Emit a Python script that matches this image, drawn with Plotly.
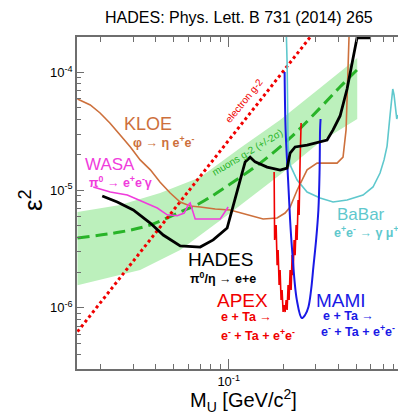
import plotly.graph_objects as go

# ---------------- data ----------------
band_up_x = [0.0149, 0.0255, 0.0422, 0.0699, 0.1156, 0.191, 0.316, 0.505]
band_up_y = [6.53e-6, 7.49e-6, 9.47e-6, 1.29e-5, 2.28e-5, 3.95e-5, 7.38e-5, 1.33e-4]
band_lo_x = [0.0149, 0.0328, 0.0543, 0.102, 0.191, 0.316, 0.505]
band_lo_y = [1.56e-6, 2.10e-6, 3.10e-6, 6.4e-6, 1.35e-5, 2.57e-5, 4.03e-5]

mu_x = [0.0149, 0.0255, 0.0372, 0.0543, 0.0699, 0.102, 0.1486, 0.217, 0.316, 0.406, 0.503]
mu_y = [3.93e-6, 4.41e-6, 5.06e-6, 6.53e-6, 7.78e-6, 1.13e-5, 1.70e-5, 2.78e-5, 4.99e-5, 7.53e-5, 1.05e-4]

eg2_x = [0.0149, 0.285]
eg2_y = [6.28e-7, 2.08e-4]

kloe_x = [0.0149, 0.0175, 0.0198, 0.0224, 0.0255, 0.0290, 0.0328, 0.0373, 0.0422, 0.0479,
          0.0543, 0.0616, 0.0699, 0.0844, 0.1019, 0.131, 0.1543, 0.184, 0.2036, 0.2168,
          0.2368, 0.2685, 0.3045, 0.3917, 0.4223, 0.4387, 0.4498, 0.4555]
kloe_y = [5.96e-5, 5.30e-5, 4.53e-5, 3.72e-5, 2.94e-5, 2.33e-5, 1.81e-5, 1.49e-5, 1.17e-5, 9.47e-6,
          7.94e-6, 7.35e-6, 7.20e-6, 6.92e-6, 6.79e-6, 6.15e-6, 5.69e-6, 5.80e-6, 6.40e-6, 7.20e-6,
          1.00e-5, 1.49e-5, 1.70e-5, 1.70e-5, 1.91e-5, 3.25e-5, 8.63e-5, 2.04e-4]

wasa_x = [0.01818, 0.02252, 0.0279, 0.0341, 0.0407, 0.0461, 0.0523, 0.0571, 0.0601, 0.0616,
          0.0632, 0.0656, 0.0744, 0.0899, 0.0994]
wasa_y = [1.065e-5, 9.65e-6, 9.10e-6, 7.94e-6, 7.06e-6, 6.18e-6, 6.07e-6, 6.40e-6, 7.48e-6, 7.78e-6,
          6.92e-6, 5.69e-6, 5.69e-6, 5.69e-6, 7.20e-6]

hades_x = [0.02035, 0.02459, 0.03007, 0.03724, 0.04386, 0.05433, 0.06986, 0.0823, 0.0981, 0.1058,
           0.1156, 0.1231, 0.1311, 0.1395, 0.1623, 0.1911, 0.2088, 0.2168, 0.2309, 0.2685,
           0.3162, 0.3453, 0.3724, 0.4068, 0.4442, 0.4730, 0.4913, 0.5037, 0.6008]
hades_y = [8.93e-6, 7.94e-6, 6.79e-6, 5.26e-6, 4.16e-6, 3.36e-6, 3.29e-6, 3.78e-6, 4.77e-6, 7.20e-6,
           1.22e-5, 1.74e-5, 1.91e-5, 1.74e-5, 1.57e-5, 1.48e-5, 1.54e-5, 2.07e-5, 2.33e-5, 2.42e-5,
           2.57e-5, 2.67e-5, 3.25e-5, 4.27e-5, 7.24e-5, 1.20e-4, 1.68e-4, 1.97e-4, 1.97e-4]

babar_x = [0.2062, 0.2088, 0.2114, 0.2168, 0.2368, 0.2685, 0.3162, 0.3724, 0.4442, 0.5433,
           0.6161, 0.6730, 0.7077, 0.7351, 0.7634, 0.7898, 0.8028, 0.8305, 0.8442]
babar_y = [2.5e-4, 1.20e-4, 2.37e-5, 1.64e-5, 1.22e-5, 9.65e-6, 8.58e-6, 7.94e-6, 8.25e-6, 9.10e-6,
           1.065e-5, 1.40e-5, 1.81e-5, 2.37e-5, 4.35e-5, 7.24e-5, 6.44e-5, 4.03e-5, 4.35e-5]

mami_x = [0.2023, 0.2049, 0.2114, 0.2168, 0.2223, 0.2359, 0.2512, 0.2618, 0.2731, 0.2824,
          0.2907, 0.3008, 0.3096, 0.3143, 0.3162, 0.3182]
mami_y = [1.01e-4, 3.25e-5, 1.22e-5, 5.58e-6, 3.12e-6, 1.17e-6, 8.20e-7, 8.71e-7, 1.02e-6, 1.42e-6,
          2.23e-6, 3.78e-6, 6.79e-6, 1.48e-5, 3.25e-5, 4.03e-5]

apex_x = [0.1773, 0.1784, 0.1818, 0.1841, 0.1864, 0.1888, 0.1911, 0.1935, 0.1960, 0.1985,
          0.2010, 0.2036, 0.2062, 0.2088, 0.2114, 0.2141, 0.2168, 0.2196, 0.2223, 0.2252,
          0.2280, 0.2309, 0.2338, 0.2368, 0.2398, 0.2428, 0.2459, 0.2490]
apex_y = [1.43e-5, 3.78e-6, 5.06e-6, 2.31e-6, 3.10e-6, 1.565e-6, 2.10e-6, 1.167e-6, 1.42e-6, 9.23e-7,
          1.058e-6, 9.23e-7, 1.167e-6, 9.60e-7, 1.565e-6, 1.167e-6, 2.10e-6, 1.42e-6, 2.81e-6, 1.90e-6,
          3.78e-6, 2.81e-6, 5.06e-6, 3.78e-6, 8.25e-6, 6.16e-6, 1.80e-5, 3.72e-5]

x_major = [0.1]
x_major_text = ["10<sup>-1</sup>"]
x_minor = [0.02, 0.03, 0.04, 0.05, 0.06, 0.07, 0.08, 0.09, 0.2, 0.3, 0.4, 0.5, 0.6, 0.7, 0.8]
y_major = [1e-6, 1e-5, 1e-4]
y_major_text = ["10<sup>-6</sup>", "10<sup>-5</sup>", "10<sup>-4</sup>"]
y_minor = [4e-7, 5e-7, 6e-7, 7e-7, 8e-7, 9e-7,
           2e-6, 3e-6, 4e-6, 5e-6, 6e-6, 7e-6, 8e-6, 9e-6,
           2e-5, 3e-5, 4e-5, 5e-5, 6e-5, 7e-5, 8e-5, 9e-5, 2e-4]

# ---------------- colours ----------------
C_KLOE = "rgb(205,112,60)"
C_WASA = "rgb(240,60,220)"
C_BABAR = "rgb(95,200,205)"
C_MAMI = "rgb(25,25,230)"
C_APEX = "rgb(240,0,0)"
C_GREEN = "rgb(40,180,40)"
C_BAND = "rgb(188,240,188)"
FONT = "Arial, Liberation Sans, sans-serif"
RS = 12.5  # reaction label size

W, H = 398, 412
L, R, T, B = 77, 0, 37, 43


def P(xp, yp):
    return (xp - L) / (W - L - R), (H - B - yp) / (H - T - B)


fig = go.Figure()
fig.add_trace(go.Scatter(x=band_up_x + band_lo_x[::-1], y=band_up_y + band_lo_y[::-1],
                         fill="toself", fillcolor=C_BAND, line=dict(width=0), mode="lines",
                         hoverinfo="skip"))
fig.add_trace(go.Scatter(x=mu_x, y=mu_y, mode="lines", line=dict(color=C_GREEN, width=3, dash="12px,6px"),
                         line_shape="spline"))
fig.add_trace(go.Scatter(x=eg2_x, y=eg2_y, mode="lines", line=dict(color=C_APEX, width=3, dash="dot")))
fig.add_trace(go.Scatter(x=kloe_x, y=kloe_y, mode="lines", line=dict(color=C_KLOE, width=1.6)))
fig.add_trace(go.Scatter(x=wasa_x, y=wasa_y, mode="lines", line=dict(color=C_WASA, width=1.6)))
fig.add_trace(go.Scatter(x=babar_x, y=babar_y, mode="lines", line=dict(color=C_BABAR, width=1.6)))
fig.add_trace(go.Scatter(x=apex_x, y=apex_y, mode="lines", line=dict(color=C_APEX, width=1.6)))
fig.add_trace(go.Scatter(x=mami_x, y=mami_y, mode="lines", line=dict(color=C_MAMI, width=2),
                         line_shape="spline"))
fig.add_trace(go.Scatter(x=hades_x, y=hades_y, mode="lines", line=dict(color="black", width=2.8)))

ann = []


def add(text, xp, yp, size, color, xanchor="center", angle=0):
    ax, ay = P(xp, yp)
    ann.append(dict(text=text, x=ax, y=ay, xref="paper", yref="paper", showarrow=False,
                    xanchor=xanchor, yanchor="middle", textangle=angle,
                    font=dict(family=FONT, size=size, color=color)))


add("HADES: Phys. Lett. B 731 (2014) 265", 239, 18, 16, "black")
add("ε<sup>2</sup>", 31, 200, 26, "black", angle=-90)
add("M<sub>U</sub> [GeV/c<sup>2</sup>]", 244, 400, 20, "black")
add("KLOE", 148, 124, 18, C_KLOE)
add("<b>φ → η e<sup>+</sup>e<sup>-</sup></b>", 164, 142, RS, C_KLOE)
add("WASA", 110, 164, 17, C_WASA)
add("<b>π<sup>0</sup> → e<sup>+</sup>e<sup>-</sup>γ</b>", 120, 182, RS, C_WASA)
add("HADES", 220, 259, 19, "black")
add("<b>π<sup>0</sup>/η → e+e</b>", 223, 278, RS, "black")
add("BaBar", 361, 214, 17, C_BABAR)
add("<b>e<sup>+</sup>e<sup>-</sup> → γ μ<sup>+</sup>μ<sup>-</sup></b>", 332, 232, RS, C_BABAR, xanchor="left")
add("APEX", 243, 300, 19, C_APEX)
add("<b>e + Ta →</b>", 219, 317, RS, C_APEX, xanchor="left")
add("<b>e<sup>-</sup> + Ta + e<sup>+</sup>e<sup>-</sup></b>", 219, 335, RS, C_APEX, xanchor="left")
add("MAMI", 341, 300, 19, C_MAMI)
add("<b>e + Ta →</b>", 321, 316, RS, C_MAMI, xanchor="left")
add("<b>e<sup>-</sup> + Ta + e<sup>+</sup>e<sup>-</sup></b>", 319, 331, RS, C_MAMI, xanchor="left")
add("electron g-2", 244, 100, 10, C_APEX, angle=-51)
add("muons g-2 (+/-2σ)", 247, 152, 10, C_GREEN, angle=-31)

AX = "rgb(110,110,110)"
fig.update_layout(
    width=W, height=H, margin=dict(l=L, r=R, t=T, b=B),
    paper_bgcolor="white", plot_bgcolor="white", showlegend=False,
    annotations=ann,
    xaxis=dict(type="log", range=[-1.8295, -0.0738], showgrid=False, zeroline=False,
               showline=True, linecolor=AX, linewidth=1.5, mirror="ticks",
               tickmode="array", tickvals=x_major, ticktext=x_major_text,
               ticks="inside", ticklen=10, tickcolor=AX, tickwidth=1,
               tickfont=dict(family=FONT, size=13, color="black"),
               minor=dict(tickmode="array", tickvals=x_minor, ticks="inside", ticklen=5,
                          tickcolor=AX, tickwidth=1, showgrid=False)),
    yaxis=dict(type="log", range=[-6.519, -3.6984], showgrid=False, zeroline=False,
               showline=True, linecolor=AX, linewidth=1.5, mirror=False,
               tickmode="array", tickvals=y_major, ticktext=y_major_text,
               ticks="inside", ticklen=7, tickcolor=AX, tickwidth=1,
               tickfont=dict(family=FONT, size=13, color="black"),
               minor=dict(tickmode="array", tickvals=y_minor, ticks="inside", ticklen=4,
                          tickcolor=AX, tickwidth=1, showgrid=False)),
)
fig.write_html("out.html", config={"displayModeBar": False},
               post_script="document.body.style.margin='0';document.body.style.overflow='hidden';")
